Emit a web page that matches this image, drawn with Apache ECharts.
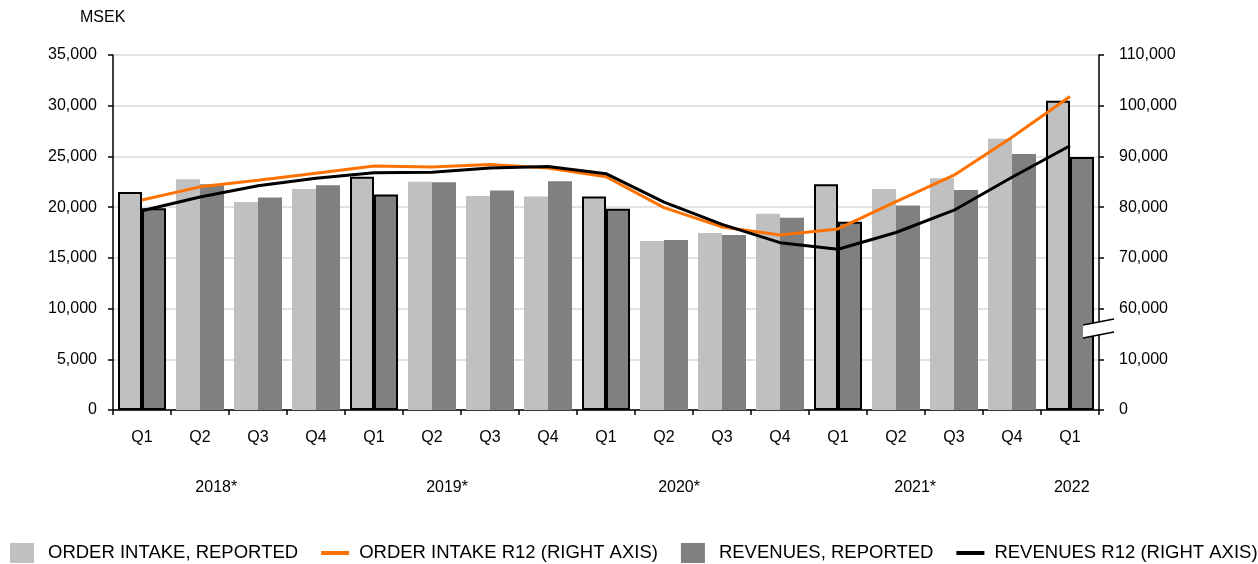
<!DOCTYPE html>
<html>
<head>
<meta charset="utf-8">
<script src="https://cdn.jsdelivr.net/npm/echarts@6/dist/echarts.min.js"></script>
<style>
  html, body { margin: 0; padding: 0; background: #fff; }
  #chart { width: 1258px; height: 564px; }
</style>
</head>
<body>
<div id="chart"></div>
<script>
  // data
  var quarters = ['Q1', 'Q2', 'Q3', 'Q4', 'Q1', 'Q2', 'Q3', 'Q4', 'Q1', 'Q2', 'Q3', 'Q4', 'Q1', 'Q2', 'Q3', 'Q4', 'Q1']
  var years = ['2018*', '2019*', '2020*', '2021*', '2022']
  var orderIntake = [21500, 22750, 20500, 21800, 23000, 22500, 21100, 21050, 21050, 16650, 17450, 19350, 22250, 21800, 22850, 26750, 30500]
  var revenues = [19900, 22250, 20950, 22150, 21250, 22450, 21650, 22550, 19850, 16750, 17250, 18950, 18550, 20150, 21700, 25250, 24950]
  var orderIntakeR12 = [81400, 84000, 85300, 86700, 88100, 87900, 88400, 87700, 86000, 79900, 76100, 74500, 75700, 81100, 86300, 93800, 101800]
  var revenuesR12 = [79300, 82000, 84200, 85700, 86800, 86900, 87700, 88000, 86600, 81000, 76600, 73000, 71700, 75000, 79400, 85900, 92100]
  var leftTicks = [0, 5000, 10000, 15000, 20000, 25000, 30000, 35000]
  var rightTicks = [0, 10000, 60000, 70000, 80000, 90000, 100000, 110000]

  // where the year labels sit, in category units along the x axis
  var yearPos = [1.78, 5.76, 9.76, 13.83, 16.53]

  var FONT = 'Liberation Sans, Arial, sans-serif'
  var LIGHT = '#c0c0c0'
  var DARK = '#808080'
  var ORANGE = '#ff7200'

  // legend icons, 28x20 box (the stray points only fix the box size)
  var SQUARE_ICON = 'path://M0,0H24V20H0Z M28,20L28,19.99'
  var LINE_ICON = 'path://M0,8H28V12H0Z M0,0L0,0.01 M28,20L28,19.99'

  // right axis has a break between 10,000 and 60,000 : map to the left scale
  function toRightAxis(v) {
    return v <= 10000 ? v / 2 : 10000 + (v - 60000) / 2
  }
  function fmt(v) {
    return v.toLocaleString('en-US')
  }

  // Q1 bars get a black outline
  function barData(values, color) {
    return values.map(function (v, i) {
      var isQ1 = quarters[i] === 'Q1'
      return {
        value: v,
        itemStyle: {
          color: color,
          borderColor: isQ1 ? '#000' : color,
          borderWidth: isQ1 ? 2 : 0
        }
      }
    })
  }

  var chart = echarts.init(document.getElementById('chart'), null, { renderer: 'canvas' })
  chart.setOption({
    animation: false,
    textStyle: { fontFamily: FONT },
    title: {
      text: 'MSEK',
      left: 75,
      top: 5,
      textStyle: { fontFamily: FONT, fontSize: 16, fontWeight: 'normal', color: '#000' }
    },
    legend: {
      left: 10,
      top: 543,
      padding: 0,
      itemWidth: 28,
      itemHeight: 20,
      itemGap: 23,
      data: [
        { name: 'ORDER INTAKE, REPORTED', icon: SQUARE_ICON },
        { name: 'ORDER INTAKE R12 (RIGHT AXIS)', icon: LINE_ICON },
        { name: 'REVENUES, REPORTED', icon: SQUARE_ICON },
        { name: 'REVENUES R12 (RIGHT AXIS)', icon: LINE_ICON }
      ],
      textStyle: { fontFamily: FONT, fontSize: 18.5, color: '#000', padding: [0, 0, 0, 5] }
    },
    grid: { left: 113, right: 159, top: 55, bottom: 154 },
    xAxis: [{
      type: 'category',
      data: quarters,
      boundaryGap: true,
      axisLine: { lineStyle: { color: '#000', width: 1.5 } },
      axisTick: { show: true, length: 5, lineStyle: { color: '#000', width: 1.5 } },
      axisLabel: { color: '#000', fontSize: 16, margin: 20, fontFamily: FONT }
    }, {
      type: 'value',
      position: 'bottom',
      min: 0,
      max: quarters.length,
      axisLine: { show: false },
      axisTick: { show: false },
      splitLine: { show: false },
      axisLabel: {
        color: '#000',
        fontSize: 16,
        margin: 70,
        fontFamily: FONT,
        customValues: yearPos,
        formatter: function (v) {
          var best = 0
          yearPos.forEach(function (p, i) {
            if (Math.abs(p - v) < Math.abs(yearPos[best] - v)) best = i
          })
          return years[best]
        }
      }
    }],
    yAxis: [{
      type: 'value',
      min: leftTicks[0],
      max: leftTicks[leftTicks.length - 1],
      interval: 5000,
      axisLine: { show: true, lineStyle: { color: '#000', width: 1.5 } },
      axisTick: { show: true, length: 5, lineStyle: { color: '#000', width: 1.5 } },
      splitLine: { lineStyle: { color: '#d9d9d9', width: 1.5 } },
      axisLabel: { color: '#000', fontSize: 16, margin: 16, fontFamily: FONT, formatter: fmt }
    }, {
      type: 'value',
      position: 'right',
      min: toRightAxis(rightTicks[0]),
      max: toRightAxis(rightTicks[rightTicks.length - 1]),
      interval: 5000,
      axisLine: { show: true, lineStyle: { color: '#000', width: 1.5 } },
      axisTick: { show: true, length: 5, lineStyle: { color: '#000', width: 1.5 } },
      splitLine: { show: false },
      axisLabel: {
        color: '#000', fontSize: 16, margin: 20, fontFamily: FONT,
        formatter: function (v) {
          return fmt(rightTicks[Math.round(v / 5000)])
        }
      }
    }],
    series: [{
      name: 'ORDER INTAKE, REPORTED',
      type: 'bar',
      barWidth: 24,
      barGap: '0%',
      itemStyle: { color: LIGHT },
      data: barData(orderIntake, LIGHT)
    }, {
      name: 'REVENUES, REPORTED',
      type: 'bar',
      barWidth: 24,
      barGap: '0%',
      itemStyle: { color: DARK },
      data: barData(revenues, DARK)
    }, {
      name: 'ORDER INTAKE R12 (RIGHT AXIS)',
      type: 'line',
      yAxisIndex: 1,
      symbol: 'none',
      z: 5,
      itemStyle: { color: ORANGE },
      lineStyle: { color: ORANGE, width: 3 },
      data: orderIntakeR12.map(toRightAxis)
    }, {
      name: 'REVENUES R12 (RIGHT AXIS)',
      type: 'line',
      yAxisIndex: 1,
      symbol: 'none',
      z: 5,
      itemStyle: { color: '#000' },
      lineStyle: { color: '#000', width: 3 },
      data: revenuesR12.map(toRightAxis)
    }],
    // axis break marker on the right axis
    graphic: [{
      type: 'polygon',
      z: 100,
      shape: { points: [[1083, 325], [1114, 319], [1114, 332], [1083, 338]] },
      style: { fill: '#fff' }
    }, {
      type: 'line',
      z: 101,
      shape: { x1: 1083, y1: 325, x2: 1114, y2: 319 },
      style: { stroke: '#000', lineWidth: 1.5 }
    }, {
      type: 'line',
      z: 101,
      shape: { x1: 1083, y1: 338, x2: 1114, y2: 332 },
      style: { stroke: '#000', lineWidth: 1.5 }
    }]
  })
</script>
</body>
</html>
